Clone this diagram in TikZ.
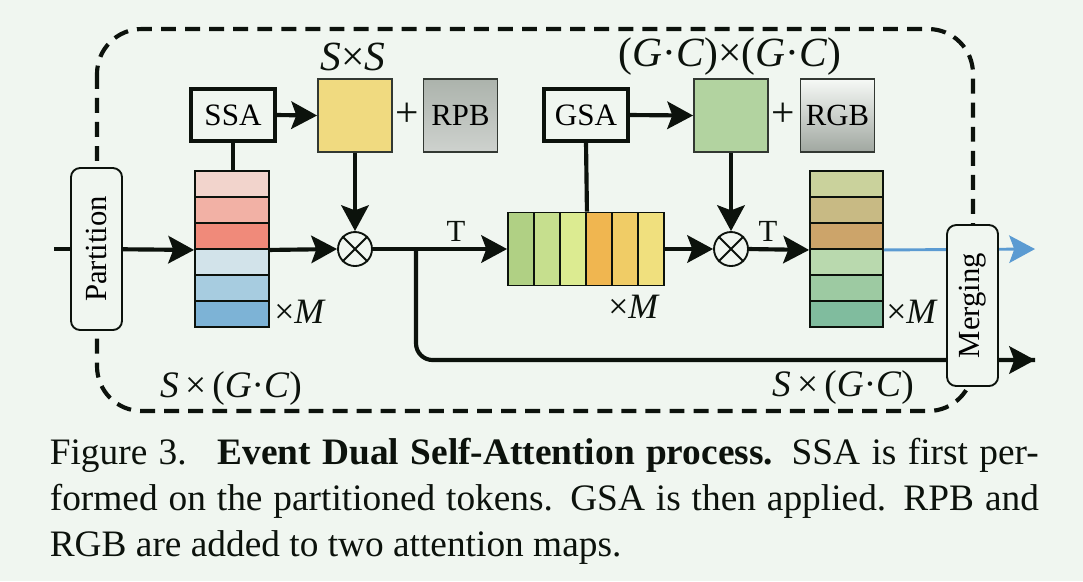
\documentclass[tikz,border=0pt]{standalone}
\usepackage{fontspec}
\setmainfont{Liberation Serif}
\usetikzlibrary{arrows.meta,shapes.geometric}
\newlength\PU \setlength\PU{0.241pt}
\definecolor{bg}{RGB}{240,246,240}
\definecolor{ink}{RGB}{12,18,12}
\definecolor{boxline}{RGB}{50,56,50}
\definecolor{flowblue}{HTML}{5B9BD2}
\definecolor{l1}{HTML}{F2D4CC}\definecolor{l2}{HTML}{F2B1A5}\definecolor{l3}{HTML}{F08A7A}
\definecolor{l4}{HTML}{D2E3EA}\definecolor{l5}{HTML}{A7CCE0}\definecolor{l6}{HTML}{7DB3D6}
\definecolor{m1}{HTML}{B0D084}\definecolor{m2}{HTML}{C6DF8E}\definecolor{m3}{HTML}{DCEB91}
\definecolor{m4}{HTML}{F0B650}\definecolor{m5}{HTML}{F0CC66}\definecolor{m6}{HTML}{F0E07E}
\definecolor{r1}{HTML}{CAD29C}\definecolor{r2}{HTML}{C8BA84}\definecolor{r3}{HTML}{CCA46A}
\definecolor{r4}{HTML}{B9D9AE}\definecolor{r5}{HTML}{9DCAA2}\definecolor{r6}{HTML}{80BC9E}
\definecolor{yellowmap}{HTML}{F0DA80}
\definecolor{greenmap}{HTML}{B2D3A0}
\newcommand\mi[1]{\textit{#1}}
\tikzset{
  flow/.style={line width=1pt, draw=ink, -{Stealth[length=6.2pt,width=6.6pt,inset=1.2pt]}},
  plain/.style={line width=1pt, draw=ink},
  cell/.style={draw=ink, line width=0.45pt, minimum width=74\PU, minimum height=26\PU, inner sep=0pt},
  mcell/.style={draw=ink, line width=0.45pt, minimum width=26\PU, minimum height=73\PU, inner sep=0pt},
  opbox/.style={draw=ink, line width=0.8pt, fill=bg, minimum width=84\PU, minimum height=52\PU, inner sep=0pt, font=\fontsize{7.5}{8}\selectfont},
  mapbox/.style={draw=boxline, line width=0.45pt, minimum width=74\PU, minimum height=73\PU, inner sep=0pt, font=\fontsize{7.4}{8}\selectfont},
  roundbox/.style={draw=ink, line width=0.45pt, fill=bg, rounded corners=2.2pt, rotate=90, minimum width=162\PU, minimum height=51\PU, inner sep=0pt, font=\fontsize{7.4}{8}\selectfont},
  otimes/.style={circle, draw=ink, line width=0.45pt, fill=bg, minimum size=34\PU, inner sep=0pt},
  lbl/.style={inner sep=0pt, text=ink},
}
\begin{document}
\begin{tikzpicture}[x=0.241pt,y=-0.241pt]
\fill[bg] (0,0) rectangle (1083,581);
\useasboundingbox (0,0) rectangle (1083,581);

% dashed frame
\draw[ink, line width=1pt, dash pattern=on 3.6pt off 2.2pt, rounded corners=10.8pt] (97,29) rectangle (973,411);

% left stack
\foreach \i in {1,...,6} \node[cell, fill=l\i] (L\i) at (232,{158+26*\i}) {};
% middle stack
\foreach \i in {1,...,6} \node[mcell, fill=m\i] (M\i) at ({495+26*\i},249) {};
% right stack
\foreach \i in {1,...,6} \node[cell, fill=r\i, minimum width=73\PU] (R\i) at (846.5,{158+26*\i}) {};

% op boxes
\node[opbox] (ssa) at (233,115) {SSA};
\node[opbox] (gsa) at (586,115) {GSA};
\node[mapbox, fill=yellowmap] (ymap) at (355,115.5) {};
\node[mapbox, fill=greenmap] (gmap) at (731,115.5) {};
\node[mapbox, shading=axis, shading angle=45, top color={rgb,255:red,172;green,179;blue,172}, middle color={rgb,255:red,238;green,242;blue,238}, bottom color={rgb,255:red,206;green,210;blue,206}] (rpb) at (460.5,115.5) {RPB};
\node[mapbox, shading=axis, shading angle=45, top color={rgb,255:red,246;green,249;blue,246}, middle color={rgb,255:red,226;green,230;blue,226}, bottom color={rgb,255:red,160;green,167;blue,160}] (rgb) at (837.5,115.5) {RGB};
\node[lbl, font=\fontsize{10}{12}\selectfont] (plus1) at (407,115) {+};
\node[lbl, font=\fontsize{10}{12}\selectfont] (plus2) at (783,115) {+};

% otimes
\node[otimes] (o1) at (355,249) {};
\node[otimes] (o2) at (731,249) {};
\foreach \o in {o1,o2}
  \draw[ink, line width=0.45pt] (\o.north west) -- (\o.south east) (\o.north east) -- (\o.south west);

% coordinates
\coordinate (in) at (54,249);
\coordinate (br) at (416,249);
\coordinate (out1) at (1035,249);
\coordinate (out2) at (1035,360);

% connectors
\draw[plain] (in) -- (96,249);
\draw[flow] (96,249) -- (L3.south west);
\draw[plain] (ssa.south) -- (ssa.south |- L1.north);
\draw[flow] (ssa.east) -- (ymap.west);
\draw[flow] (ymap.south) -- (o1.north);
\draw[flow] (L3.south east) -- (o1.west);
\draw[flow] (o1.east) -- (M1.west);
\draw[plain, rounded corners=4pt] (br) |- (out2);
\draw[flow] (960,360) -- (out2);
\draw[plain] (gsa.south) -- (M3.north east);
\draw[flow] (gsa.east) -- (gmap.west);
\draw[flow] (gmap.south) -- (o2.north);
\draw[flow] (M6.east) -- (o2.west);
\draw[flow] (o2.east) -- (R3.south west);
\draw[line width=0.7pt, draw=flowblue, -{Stealth[length=6.2pt,width=6.6pt,inset=1.2pt]}] (R3.south east) -- (out1);

% round boxes on top
\node[roundbox] (part) at (96.5,249) {Partition};
\node[roundbox, minimum width=161\PU] (merge) at (972.5,305.5) {Merging};

% labels
\node[lbl, font=\fontsize{7.4}{8}\selectfont] (t1) at (456,231) {T};
\node[lbl, font=\fontsize{7.4}{8}\selectfont] (t2) at (768,231) {T};
\node[lbl, font=\fontsize{10}{12}\selectfont] (lss) at (353,57) {\mi{S}×\mi{S}};
\node[lbl, font=\fontsize{10}{12}\selectfont] (lgc) at (730,57) {(\mi{G}·\mi{C})×(\mi{G}·\mi{C})};
\node[lbl, font=\fontsize{8.6}{10}\selectfont] (xm1) at (300,312) {×\mi{M}};
\node[lbl, font=\fontsize{8.6}{10}\selectfont] (xm2) at (634,307) {×\mi{M}};
\node[lbl, font=\fontsize{8.6}{10}\selectfont] (xm3) at (912,312) {×\mi{M}};
\node[lbl, font=\fontsize{9}{11}\selectfont] (sgc1) at (231,388) {\mi{S}\,×\,(\mi{G}·\mi{C})};
\node[lbl, font=\fontsize{9}{11}\selectfont] (sgc2) at (843,387) {\mi{S}\,×\,(\mi{G}·\mi{C})};

% caption
\node[lbl, anchor=base west, font=\fontsize{9}{11}\selectfont] (cap1) at (49,464) {\makebox[989\PU][s]{Figure 3.\hspace{3pt} \textbf{Event Dual Self-Attention process.} SSA is first per-}};
\node[lbl, anchor=base west, font=\fontsize{9}{11}\selectfont] (cap2) at (49,510) {\makebox[989\PU][s]{formed on the partitioned tokens. GSA is then applied. RPB and}};
\node[lbl, anchor=base west, font=\fontsize{9}{11}\selectfont] (cap3) at (49,556) {RGB are added to two attention maps.};
\end{tikzpicture}
\end{document}
